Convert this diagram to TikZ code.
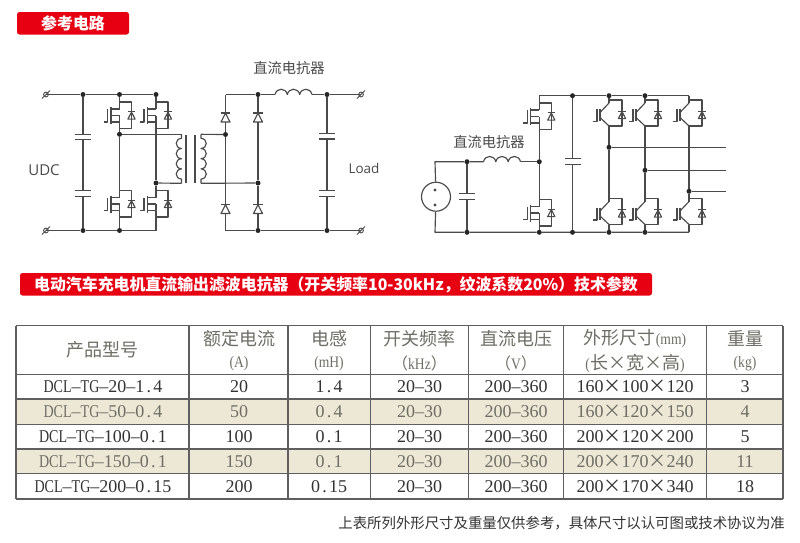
\documentclass[tikz,border=0pt]{standalone}
\usepackage{fontspec}
\setmainfont{Liberation Serif}
\newfontfamily\cjk{Noto Sans CJK SC}
\newfontfamily\latn[FakeStretch=0.78]{Liberation Serif}
\newfontfamily\hdl[FakeStretch=0.85]{Liberation Serif}
\newfontfamily\sans{Open Sans}
\newcommand{\tm}{\makebox[18pt]{\cjk ×}}
\newcommand{\dt}{\makebox[9pt]{.}}
\newcommand{\dcl}[1]{{\latn DCL}–{\latn TG}–#1}
\newcommand{\hdlat}[1]{{\hdl\fontsize{16pt}{17pt}\selectfont #1}}
\definecolor{wire}{HTML}{4A4A4A}
\definecolor{brand}{HTML}{E60012}
\definecolor{rowtint}{HTML}{EDE7D5}
\definecolor{grid}{HTML}{5F5F5F}
\definecolor{ink}{HTML}{333333}
\definecolor{soft}{HTML}{6E6E66}
\tikzset{
  ckt/.style={draw=wire,line width=1.15pt,line join=round},
  dot/.style={circle,fill=black!85,inner sep=0pt,minimum size=5pt},
  banner/.style={fill=brand,rounded corners=2.5pt},
  bannertext/.style={text=white,inner sep=0pt,font=\cjk\bfseries\fontsize{15.9pt}{16pt}\selectfont},
  lab/.style={text=wire,inner sep=0pt,font=\cjk\fontsize{14.3pt}{15pt}\selectfont},
  hd/.style={text=soft,inner sep=0pt,align=center,font=\cjk\fontsize{18pt}{25pt}\selectfont},
  hdb/.style={text=soft,inner sep=0pt,font=\fontsize{16pt}{17pt}\selectfont},
  cella/.style={text=ink,inner sep=0pt,font=\fontsize{18pt}{19pt}\selectfont},
  cellb/.style={text=soft,inner sep=0pt,font=\fontsize{18pt}{19pt}\selectfont},
  vdiode/.pic={
    \draw[ckt] (-3.6,3.6) -- (3.6,3.6) -- (0,-3.4) -- cycle;
    \draw[ckt] (-3.8,-3.6) -- (3.8,-3.6);
  },
  mosfet/.pic={
    \coordinate (-d) at (0,-6.5);
    \coordinate (-s) at (0,6.5);
    \draw[ckt] (-8.5,-8.5) -- (-8.5,8.5);
    \draw[ckt] (-12,-6.5) -- (-12,6.5) -- (-16,6.5);
    \draw[ckt] (-8.5,-6.5) -- (0,-6.5);
    \draw[ckt] (-8.5,0) -- (0,0);
    \draw[ckt] (-8.5,6.5) -- (0,6.5) -- (0,0);
    \draw[ckt] (0,-13.5) -- (12,-13.5) -- (12,13) -- (0,13);
    \pic at (12,0) {vdiode};
  },
  igbt/.pic={
    \coordinate (-d) at (0,-12);
    \coordinate (-s) at (0,11);
    \draw[ckt] (-9,-6) -- (-9,6);
    \draw[ckt] (-12,-6) -- (-12,6.5) -- (-16,6.5);
    \draw[ckt] (-9,-2.5) -- (0,-12);
    \draw[ckt] (-9,2.5) -- (0,11);
    \draw[ckt] (0,-15) -- (13,-15) -- (13,11) -- (0,11);
    \pic at (13,0) {vdiode};
  },
  rdiode/.pic={
    \coordinate (-a) at (0,4.5);
    \coordinate (-k) at (0,-4.5);
    \draw[ckt] (-4.5,4.5) -- (4.5,4.5) -- (0,-4.3) -- cycle;
    \draw[ckt] (-4.8,-4.5) -- (4.8,-4.5);
  },
  capa/.pic={
    \coordinate (-u) at (0,-2.7);
    \coordinate (-l) at (0,2.7);
    \draw[ckt,line width=1.3pt] (-8,-2.7) -- (8,-2.7);
    \draw[ckt,line width=1.3pt] (-8,2.7) -- (8,2.7);
  },
  choke/.pic={
    \coordinate (-l) at (0,0);
    \coordinate (-r) at (37,0);
    \draw[ckt] (0,0) .. controls +(1.5,-7) and +(-1.5,-7) .. ++(12.33,0)
      .. controls +(1.5,-7) and +(-1.5,-7) .. ++(12.33,0)
      .. controls +(1.5,-7) and +(-1.5,-7) .. ++(12.34,0);
  },
  coil/.pic={
    \coordinate (-t) at (0,0);
    \coordinate (-b) at (0,49);
    \draw[ckt] (0,0) -- (0,4) .. controls +(-7,0.5) and +(-7,-0.5) .. ++(0,10.2)
      .. controls +(-7,0.5) and +(-7,-0.5) .. ++(0,10.2)
      .. controls +(-7,0.5) and +(-7,-0.5) .. ++(0,10.2)
      .. controls +(-7,0.5) and +(-7,-0.5) .. ++(0,10.2) -- (0,49);
  },
  term/.pic={
    \coordinate (-c) at (0,0);
    \draw[ckt,line width=.9pt] (0,0) circle (2.4);
    \draw[ckt,line width=.9pt] (-4,4) -- (4,-4);
  },
}
\begin{document}
\begin{tikzpicture}[x=1pt,y=-1pt]
\useasboundingbox (0,0) rectangle (800,542);
\fill[white] (0,0) rectangle (800,542);

% banners
\fill[banner] (17,12) rectangle (129,34.5);
\node[bannertext] (t1) at (73,23.3) {参考电路};
\fill[banner] (20,273) rectangle (652,295.5);
\node[bannertext] (t2) at (336,284.3) {电动汽车充电机直流输出滤波电抗器（开关频率10-30kHz，纹波系数20\%）技术参数};

% ---------- left circuit
\pic (tl1) at (46,94.5) {term};
\pic (tl2) at (46,230.5) {term};
\pic (tl3) at (361,94.5) {term};
\pic (tl4) at (361,230.5) {term};
\node[dot] (a1) at (83,94.5) {};
\node[dot] (a2) at (119.5,94.5) {};
\node[dot] (a3) at (156,94.5) {};
\node[dot] (b1) at (83,230.5) {};
\node[dot] (b2) at (119.5,230.5) {};
\coordinate (b3) at (156,230.5);
\node[dot] (m1) at (119.5,134.3) {};
\node[dot] (m2) at (156,183) {};
\pic (q1) at (119.5,115.5) {mosfet};
\pic (q2) at (156,115.5) {mosfet};
\pic (q3) at (119.5,204) {mosfet};
\pic (q4) at (156,204) {mosfet};
\pic (c1) at (83,137) {capa};
\pic (c2) at (83,193.5) {capa};
\draw[ckt] (tl1-c) -- (a1) -- (a2) -- (a3);
\draw[ckt] (tl2-c) -- (b1) -- (b2) -- (b3);
\draw[ckt] (a1) -- (c1-u);
\draw[ckt] (c1-l) -- (c2-u);
\draw[ckt] (c2-l) -- (b1);
\draw[ckt] (a2) -- (q1-d);
\draw[ckt] (q1-s) -- (m1);
\draw[ckt] (m1) -- (q3-d);
\draw[ckt] (q3-s) -- (b2);
\draw[ckt] (a3) -- (q2-d);
\draw[ckt] (q2-s) -- (m2);
\draw[ckt] (m2) -- (q4-d);
\draw[ckt] (q4-s) -- (b3);
% transformer
\pic (x1) at (181.5,134.3) {coil};
\pic[xscale=-1] (x2) at (201,134.3) {coil};
\draw[ckt] (m1) -- (x1-t);
\draw[ckt] (m2) -- (x1-b);
\coordinate (k1) at (186,135);
\coordinate (k2) at (186,183);
\coordinate (k3) at (195,135);
\coordinate (k4) at (195,183);
\draw[ckt] (k1) -- (k2);
\draw[ckt] (k3) -- (k4);
% rectifier
\node[dot] (r1) at (225.5,134.5) {};
\node[dot] (r2) at (258,183) {};
\node[dot] (r3) at (258,94.5) {};
\node[dot] (r4) at (258,230.5) {};
\node[dot] (r5) at (327,94.5) {};
\node[dot] (r6) at (327,230.5) {};
\coordinate (r7) at (225.5,94.5);
\coordinate (r8) at (225.5,230.5);
\pic (d1) at (225.5,117.5) {rdiode};
\pic (d2) at (258,117.5) {rdiode};
\pic (d3) at (225.5,209) {rdiode};
\pic (d4) at (258,209) {rdiode};
\pic (l1) at (275,94.5) {choke};
\pic (c3) at (327,136.3) {capa};
\pic (c4) at (327,193.5) {capa};
\draw[ckt] (x2-t) -- (r1);
\draw[ckt] (x2-b) -- (r2);
\draw[ckt] (r7) -- (d1-k);
\draw[ckt] (d1-a) -- (r1) -- (d3-k);
\draw[ckt] (d3-a) -- (r8);
\draw[ckt] (r3) -- (d2-k);
\draw[ckt] (d2-a) -- (r2) -- (d4-k);
\draw[ckt] (d4-a) -- (r4);
\draw[ckt] (r7) -- (r3) -- (l1-l);
\draw[ckt] (l1-r) -- (r5) -- (tl3-c);
\draw[ckt] (r8) -- (r4) -- (r6) -- (tl4-c);
\draw[ckt] (r5) -- (c3-u);
\draw[ckt] (c3-l) -- (c4-u);
\draw[ckt] (c4-l) -- (r6);
\node[lab] (t3) at (289,68) {直流电抗器};
\node[text=wire,inner sep=0pt,font=\sans\fontsize{15pt}{16pt}\selectfont] (t4) at (44,170.5) {UDC};
\node[text=wire,inner sep=0pt,font=\sans\fontsize{13.5pt}{14pt}\selectfont] (t5) at (364,168) {Load};

% ---------- right circuit
\node[circle,draw=wire,line width=1.15pt,minimum size=29pt,inner sep=0pt] (src) at (436,196.7) {};
\fill[wire] (435,190) circle (1.7) (435,205) circle (1.7);
\coordinate (w1) at (435,161.7);
\coordinate (w2) at (435,232.3);
\node[dot] (e1) at (467,161.7) {};
\node[dot] (e2) at (539.3,161.7) {};
\node[dot] (f1) at (467,232.3) {};
\node[dot] (f2) at (539.3,232.3) {};
\node[dot] (f3) at (572.5,232.3) {};
\node[dot] (f4) at (609,232.3) {};
\node[dot] (f5) at (645,232.3) {};
\coordinate (f6) at (689,232.3);
\coordinate (g1) at (539.3,95.7);
\node[dot] (g2) at (572.5,95.7) {};
\node[dot] (g3) at (609,95.7) {};
\node[dot] (g4) at (645,95.7) {};
\coordinate (g5) at (689,95.7);
\pic (l2) at (483.5,161.7) {choke};
\pic (c5) at (467,196.5) {capa};
\pic (c6) at (572.5,161.5) {capa};
\pic (q5) at (539.3,116.5) {mosfet};
\pic (q6) at (539.3,213) {mosfet};
\pic (i1) at (609,115) {igbt};
\pic (i2) at (645,115) {igbt};
\pic (i3) at (689,115) {igbt};
\pic (i4) at (609,213.5) {igbt};
\pic (i5) at (645,213.5) {igbt};
\pic (i6) at (689,213.5) {igbt};
\node[dot] (p1) at (609,147.3) {};
\node[dot] (p2) at (645,170.3) {};
\node[dot] (p3) at (689,191.3) {};
\coordinate (o1) at (726,147.3);
\coordinate (o2) at (726,170.3);
\coordinate (o3) at (726,191.3);
\draw[ckt] (src) -- (w1) -- (e1) -- (l2-l);
\draw[ckt] (l2-r) -- (e2);
\draw[ckt] (src) -- (w2) -- (f1) -- (f2) -- (f3) -- (f4) -- (f5) -- (f6);
\draw[ckt] (g1) -- (g2) -- (g3) -- (g4) -- (g5);
\draw[ckt] (e1) -- (c5-u);
\draw[ckt] (c5-l) -- (f1);
\draw[ckt] (g2) -- (c6-u);
\draw[ckt] (c6-l) -- (f3);
\draw[ckt] (g1) -- (q5-d);
\draw[ckt] (q5-s) -- (e2) -- (q6-d);
\draw[ckt] (q6-s) -- (f2);
\draw[ckt] (g3) -- (i1-d);
\draw[ckt] (i1-s) -- (p1) -- (i4-d);
\draw[ckt] (i4-s) -- (f4);
\draw[ckt] (g4) -- (i2-d);
\draw[ckt] (i2-s) -- (p2) -- (i5-d);
\draw[ckt] (i5-s) -- (f5);
\draw[ckt] (g5) -- (i3-d);
\draw[ckt] (i3-s) -- (p3) -- (i6-d);
\draw[ckt] (i6-s) -- (f6);
\draw[ckt] (p1) -- (o1);
\draw[ckt] (p2) -- (o2);
\draw[ckt] (p3) -- (o3);
\node[lab] (t6) at (489,142) {直流电抗器};

% ---------- table
\fill[rowtint] (16,399) rectangle (783,424.3);
\fill[rowtint] (16,449) rectangle (783,473.7);
\foreach \yy in {325.7,374.3,399,424.3,449,473.7,499}
  \draw[grid,line width=1.1pt] (16,\yy) -- (783,\yy);
\foreach \xx in {16,189,288,370.5,468.5,563.5,706.5,783}
  \draw[grid,line width=1.1pt] (\xx,325.7) -- (\xx,499);

\node[hd] (h1) at (102.5,350) {产品型号};
\node[hd] (h2) at (239,338.3) {额定电流};
\node[hdb] (h2b) at (239,363.3) {\hdlat{(A)}};
\node[hd] (h3) at (329,338.3) {电感};
\node[hdb] (h3b) at (329,363.3) {\hdlat{(mH)}};
\node[hd] (h4) at (419.5,338.3) {开关频率};
\node[hdb] (h4b) at (419.5,363.3) {{\cjk（}\hdlat{kHz}{\cjk）}};
\node[hd] (h5) at (516,338.3) {直流电压};
\node[hdb] (h5b) at (516,363.3) {{\cjk（}\hdlat{V}{\cjk）}};
\node[hd] (h6) at (635,338.3) {外形尺寸\hdlat{(mm)}};
\node[hd] (h6b) at (635,363.3) {\hdlat{(}长\tm 宽\tm 高\hdlat{)}};
\node[hd] (h7) at (745,338.3) {重量};
\node[hdb] (h7b) at (745,363.3) {\hdlat{(kg)}};

\node[cella] (a11) at (103,386.7) {\dcl{20–1\dt 4}};
\node[cella] (a12) at (239,386.7) {20};
\node[cella] (a13) at (329,386.7) {1\dt 4};
\node[cella] (a14) at (419.5,386.7) {20–30};
\node[cella] (a15) at (516,386.7) {200–360};
\node[cella] (a16) at (635,386.7) {160\tm 100\tm 120};
\node[cella] (a17) at (745,386.7) {3};

\node[cellb] (a21) at (103,411.7) {\dcl{50–0\dt 4}};
\node[cellb] (a22) at (239,411.7) {50};
\node[cellb] (a23) at (329,411.7) {0\dt 4};
\node[cellb] (a24) at (419.5,411.7) {20–30};
\node[cellb] (a25) at (516,411.7) {200–360};
\node[cellb] (a26) at (635,411.7) {160\tm 120\tm 150};
\node[cellb] (a27) at (745,411.7) {4};

\node[cella] (a31) at (103,436.7) {\dcl{100–0\dt 1}};
\node[cella] (a32) at (239,436.7) {100};
\node[cella] (a33) at (329,436.7) {0\dt 1};
\node[cella] (a34) at (419.5,436.7) {20–30};
\node[cella] (a35) at (516,436.7) {200–360};
\node[cella] (a36) at (635,436.7) {200\tm 120\tm 200};
\node[cella] (a37) at (745,436.7) {5};

\node[cellb] (a41) at (103,461.5) {\dcl{150–0\dt 1}};
\node[cellb] (a42) at (239,461.5) {150};
\node[cellb] (a43) at (329,461.5) {0\dt 1};
\node[cellb] (a44) at (419.5,461.5) {20–30};
\node[cellb] (a45) at (516,461.5) {200–360};
\node[cellb] (a46) at (635,461.5) {200\tm 170\tm 240};
\node[cellb] (a47) at (745,461.5) {11};

\node[cella] (a51) at (103,486.7) {\dcl{200–0\dt 15}};
\node[cella] (a52) at (239,486.7) {200};
\node[cella] (a53) at (329,486.7) {0\dt 15};
\node[cella] (a54) at (419.5,486.7) {20–30};
\node[cella] (a55) at (516,486.7) {200–360};
\node[cella] (a56) at (635,486.7) {200\tm 170\tm 340};
\node[cella] (a57) at (745,486.7) {18};

\node[anchor=east,text=ink,inner sep=0pt,font=\cjk\fontsize{14.4pt}{15pt}\selectfont] (foot) at (785,523) {上表所列外形尺寸及重量仅供参考，具体尺寸以认可图或技术协议为准};
\end{tikzpicture}
\end{document}
